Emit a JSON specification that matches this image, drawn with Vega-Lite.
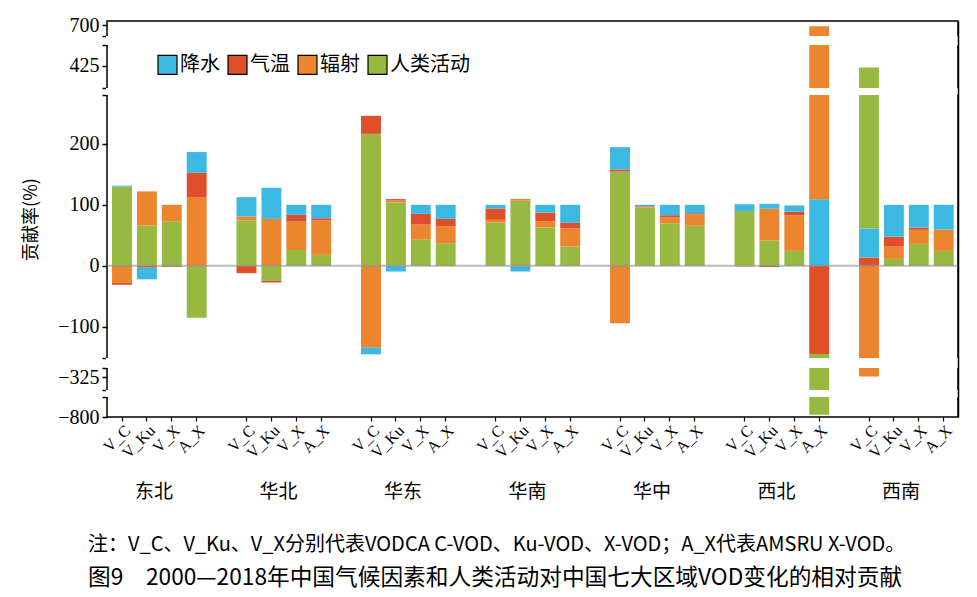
{
 "$schema": "https://vega.github.io/schema/vega-lite/v6.json",
 "width": 851, "height": 396,
 "autosize": {"type": "none"},
 "padding": {"left": 107, "top": 21, "right": 19, "bottom": 180},
 "background": "white",
 "config": {"view": {"stroke": "black", "strokeWidth": 1.5}, "font": "Liberation Serif, DejaVu Serif, serif"},
 "title": {"text": "注：V_C、V_Ku、V_X分别代表VODCA C-VOD、Ku-VOD、X-VOD；A_X代表AMSRU X-VOD。", "subtitle": "图9　2000—2018年中国气候因素和人类活动对中国七大区域VOD变化的相对贡献", "orient": "bottom", "anchor": "start", "frame": "group", "dx": -19, "offset": 34, "font": "Noto Sans CJK SC", "fontSize": 20, "fontWeight": "normal", "color": "black", "subtitleFont": "Noto Sans CJK SC", "subtitleFontSize": 22.7, "subtitleColor": "black", "subtitlePadding": 12},
 "layer": [
  {
   "data": {"values": [
    {"b":"东北 V_C","f":"人类活动","v":130,"k":1},{"b":"东北 V_C","f":"辐射","v":-28,"k":2},{"b":"东北 V_C","f":"气温","v":-3,"k":3},{"b":"东北 V_C","f":"降水","v":1.5,"k":4},
    {"b":"东北 V_Ku","f":"人类活动","v":66,"k":1},{"b":"东北 V_Ku","f":"辐射","v":56,"k":2},{"b":"东北 V_Ku","f":"气温","v":-3,"k":3},{"b":"东北 V_Ku","f":"降水","v":-19,"k":4},
    {"b":"东北 V_X","f":"人类活动","v":72.6,"k":1},{"b":"东北 V_X","f":"辐射","v":27.4,"k":2},{"b":"东北 V_X","f":"气温","v":-1.5,"k":3},
    {"b":"东北 A_X","f":"人类活动","v":-85,"k":1},{"b":"东北 A_X","f":"辐射","v":112,"k":2},{"b":"东北 A_X","f":"气温","v":40.5,"k":3},{"b":"东北 A_X","f":"降水","v":34,"k":4},
    {"b":"华北 V_C","f":"人类活动","v":74,"k":1},{"b":"华北 V_C","f":"辐射","v":7,"k":2},{"b":"华北 V_C","f":"气温","v":-12,"k":3},{"b":"华北 V_C","f":"降水","v":31.5,"k":4},
    {"b":"华北 V_Ku","f":"人类活动","v":-24.6,"k":1},{"b":"华北 V_Ku","f":"辐射","v":77,"k":2},{"b":"华北 V_Ku","f":"气温","v":-2.7,"k":3},{"b":"华北 V_Ku","f":"降水","v":51,"k":4},
    {"b":"华北 V_X","f":"人类活动","v":26,"k":1},{"b":"华北 V_X","f":"辐射","v":46.6,"k":2},{"b":"华北 V_X","f":"气温","v":11,"k":3},{"b":"华北 V_X","f":"降水","v":16.4,"k":4},
    {"b":"华北 A_X","f":"人类活动","v":18,"k":1},{"b":"华北 A_X","f":"辐射","v":56.3,"k":2},{"b":"华北 A_X","f":"气温","v":3.7,"k":3},{"b":"华北 A_X","f":"降水","v":22,"k":4},
    {"b":"华东 V_C","f":"人类活动","v":216.4,"k":1},{"b":"华东 V_C","f":"辐射","v":-134,"k":2},{"b":"华东 V_C","f":"气温","v":29.5,"k":3},{"b":"华东 V_C","f":"降水","v":-11,"k":4},
    {"b":"华东 V_Ku","f":"人类活动","v":104.4,"k":1},{"b":"华东 V_Ku","f":"辐射","v":2.7,"k":2},{"b":"华东 V_Ku","f":"气温","v":2.3,"k":3},{"b":"华东 V_Ku","f":"降水","v":-9.3,"k":4},
    {"b":"华东 V_X","f":"人类活动","v":43.7,"k":1},{"b":"华东 V_X","f":"辐射","v":24,"k":2},{"b":"华东 V_X","f":"气温","v":17.5,"k":3},{"b":"华东 V_X","f":"降水","v":14.8,"k":4},
    {"b":"华东 A_X","f":"人类活动","v":37.2,"k":1},{"b":"华东 A_X","f":"辐射","v":27.3,"k":2},{"b":"华东 A_X","f":"气温","v":12.5,"k":3},{"b":"华东 A_X","f":"降水","v":23,"k":4},
    {"b":"华南 V_C","f":"人类活动","v":71,"k":1},{"b":"华南 V_C","f":"辐射","v":4.4,"k":2},{"b":"华南 V_C","f":"气温","v":18.6,"k":3},{"b":"华南 V_C","f":"降水","v":6,"k":4},
    {"b":"华南 V_Ku","f":"人类活动","v":107,"k":1},{"b":"华南 V_Ku","f":"辐射","v":2.8,"k":2},{"b":"华南 V_Ku","f":"气温","v":-1.1,"k":3},{"b":"华南 V_Ku","f":"降水","v":-8.2,"k":4},
    {"b":"华南 V_X","f":"人类活动","v":62.8,"k":1},{"b":"华南 V_X","f":"辐射","v":10.4,"k":2},{"b":"华南 V_X","f":"气温","v":14.2,"k":3},{"b":"华南 V_X","f":"降水","v":12.6,"k":4},
    {"b":"华南 A_X","f":"人类活动","v":31.7,"k":1},{"b":"华南 A_X","f":"辐射","v":30,"k":2},{"b":"华南 A_X","f":"气温","v":8.8,"k":3},{"b":"华南 A_X","f":"降水","v":29.5,"k":4},
    {"b":"华中 V_C","f":"人类活动","v":154.6,"k":1},{"b":"华中 V_C","f":"辐射","v":-94,"k":2},{"b":"华中 V_C","f":"气温","v":3.4,"k":3},{"b":"华中 V_C","f":"降水","v":36.5,"k":4},
    {"b":"华中 V_Ku","f":"人类活动","v":95.6,"k":1},{"b":"华中 V_Ku","f":"辐射","v":1.1,"k":2},{"b":"华中 V_Ku","f":"气温","v":1.1,"k":3},{"b":"华中 V_Ku","f":"降水","v":2.2,"k":4},
    {"b":"华中 V_X","f":"人类活动","v":70,"k":1},{"b":"华中 V_X","f":"辐射","v":9.2,"k":2},{"b":"华中 V_X","f":"气温","v":3.8,"k":3},{"b":"华中 V_X","f":"降水","v":17,"k":4},
    {"b":"华中 A_X","f":"人类活动","v":65.6,"k":1},{"b":"华中 A_X","f":"辐射","v":19.1,"k":2},{"b":"华中 A_X","f":"气温","v":1.6,"k":3},{"b":"华中 A_X","f":"降水","v":13.7,"k":4},
    {"b":"西北 V_C","f":"人类活动","v":90,"k":1},{"b":"西北 V_C","f":"辐射","v":-1,"k":2},{"b":"西北 V_C","f":"降水","v":11,"k":4},
    {"b":"西北 V_Ku","f":"人类活动","v":41.5,"k":1},{"b":"西北 V_Ku","f":"辐射","v":52,"k":2},{"b":"西北 V_Ku","f":"气温","v":-2,"k":3},{"b":"西北 V_Ku","f":"降水","v":8.2,"k":4},
    {"b":"西北 V_X","f":"人类活动","v":24.6,"k":1},{"b":"西北 V_X","f":"辐射","v":58,"k":2},{"b":"西北 V_X","f":"气温","v":6,"k":3},{"b":"西北 V_X","f":"降水","v":10.4,"k":4},
    {"b":"西北 A_X","f":"降水","v":109.3,"k":1},{"b":"西北 A_X","f":"气温","v":-144.3,"k":2},{"b":"西北 A_X","f":"辐射","v":589,"k":3},{"b":"西北 A_X","f":"人类活动","v":-652,"k":4},
    {"b":"西南 V_C","f":"气温","v":13.7,"k":1},{"b":"西南 V_C","f":"降水","v":47.5,"k":2},{"b":"西南 V_C","f":"人类活动","v":361,"k":3},{"b":"西南 V_C","f":"辐射","v":-324,"k":4},
    {"b":"西南 V_Ku","f":"人类活动","v":11.5,"k":1},{"b":"西南 V_Ku","f":"辐射","v":20,"k":2},{"b":"西南 V_Ku","f":"气温","v":16.4,"k":3},{"b":"西南 V_Ku","f":"降水","v":52,"k":4},
    {"b":"西南 V_X","f":"人类活动","v":36,"k":1},{"b":"西南 V_X","f":"辐射","v":23,"k":2},{"b":"西南 V_X","f":"气温","v":3.8,"k":3},{"b":"西南 V_X","f":"降水","v":37.2,"k":4},
    {"b":"西南 A_X","f":"人类活动","v":24.6,"k":1},{"b":"西南 A_X","f":"辐射","v":35,"k":2},{"b":"西南 A_X","f":"降水","v":40.5,"k":4}
   ]},
   "mark": {"type": "bar"},
   "encoding": {
    "x": {"field": "b", "type": "nominal",
     "scale": {"domain": ["东北 V_C","东北 V_Ku","东北 V_X","东北 A_X","s1","华北 V_C","华北 V_Ku","华北 V_X","华北 A_X","s2","华东 V_C","华东 V_Ku","华东 V_X","华东 A_X","s3","华南 V_C","华南 V_Ku","华南 V_X","华南 A_X","s4","华中 V_C","华中 V_Ku","华中 V_X","华中 A_X","s5","西北 V_C","西北 V_Ku","西北 V_X","西北 A_X","s6","西南 V_C","西南 V_Ku","西南 V_X","西南 A_X","s7"], "range": [2.55, 874.05], "paddingInner": 0.2, "paddingOuter": 0.1},
     "axis": {"values": ["东北 V_C","东北 V_Ku","东北 V_X","东北 A_X","华北 V_C","华北 V_Ku","华北 V_X","华北 A_X","华东 V_C","华东 V_Ku","华东 V_X","华东 A_X","华南 V_C","华南 V_Ku","华南 V_X","华南 A_X","华中 V_C","华中 V_Ku","华中 V_X","华中 A_X","西北 V_C","西北 V_Ku","西北 V_X","西北 A_X","西南 V_C","西南 V_Ku","西南 V_X","西南 A_X"], "labelExpr": "split(datum.value, ' ')[1]", "labelAngle": -45, "labelFont": "Liberation Serif, DejaVu Serif, serif", "labelFontSize": 16, "labelColor": "black", "tickColor": "black", "tickSize": 4, "tickWidth": 1.2, "domain": false, "title": null, "labelPadding": 1, "grid": false}},
    "y": {"field": "v", "type": "quantitative", "stack": "zero",
     "scale": {"domain": [-800, -767, -346, -310, -151, 280, 389, 459, 682, 707], "range": [396, 376, 369, 347, 337, 74, 67, 24, 15, 0], "zero": false, "nice": false},
     "axis": {"orient": "left", "values": [700, 682, 459, 425, 389, 280, 200, 100, 0, -100, -151, -310, -325, -346, -767, -800], "labelExpr": "indexof([700, 425, 200, 100, 0, -100, -325, -800], datum.value) >= 0 ? datum.label : ''", "labelFont": "Liberation Serif, DejaVu Serif, serif", "labelFontSize": 20, "labelColor": "black", "tickColor": "black", "tickSize": 5, "tickWidth": 1.5, "domain": false, "grid": false, "labelPadding": 3, "title": "贡献率(%)", "titleFont": "Noto Sans CJK SC", "titleFontSize": 18, "titleFontWeight": "normal", "titleColor": "black", "titlePadding": 17}},
    "color": {"field": "f", "type": "nominal",
     "scale": {"domain": ["降水", "气温", "辐射", "人类活动"], "range": ["#3CB9E2", "#DF4F2A", "#EB862F", "#97B941"]},
     "legend": {"orient": "none", "legendX": 50, "legendY": 33, "direction": "horizontal", "title": null, "symbolType": "square", "symbolSize": 361, "symbolStrokeColor": "black", "symbolStrokeWidth": 1.2, "symbolOpacity": 1, "labelFont": "Noto Sans CJK SC", "labelFontSize": 20, "labelColor": "black", "labelOffset": 2, "columnPadding": 5, "padding": 0}},
    "order": {"field": "k", "type": "quantitative", "sort": "ascending"}
   }
  },
  {
   "data": {"values": [{"z": 0}]},
   "mark": {"type": "rule", "color": "#8c8c8c", "strokeWidth": 2, "opacity": 0.6},
   "encoding": {"y": {"field": "z", "type": "quantitative", "axis": null}}
  },
  {
   "data": {"values": [{"lo": -707, "hi": -406}, {"lo": -294, "hi": -167}, {"lo": 296, "hi": 373}, {"lo": 484, "hi": 657}]},
   "mark": {"type": "rect", "fill": "white", "stroke": "white", "strokeWidth": 2},
   "encoding": {
    "y": {"field": "lo", "type": "quantitative",
     "scale": {"domain": [-800, -767, -346, -310, -151, 280, 389, 459, 682, 707], "range": [396, 376, 369, 347, 337, 74, 67, 24, 15, 0], "zero": false, "nice": false},
     "axis": {"orient": "right", "labels": false, "ticks": false, "grid": false, "domain": true, "domainColor": "black", "domainWidth": 1.5, "zindex": 1, "title": null}},
    "y2": {"field": "hi"}
   }
  },
  {
   "data": {"values": [{"g": "东北"}, {"g": "华北"}, {"g": "华东"}, {"g": "华南"}, {"g": "华中"}, {"g": "西北"}, {"g": "西南"}]},
   "mark": {"type": "rule", "opacity": 0},
   "encoding": {
    "x": {"field": "g", "type": "nominal", "sort": null,
     "scale": {"domain": ["东北", "华北", "华东", "华南", "华中", "西北", "西南"], "range": [-15.25, 856.25], "paddingInner": 0, "paddingOuter": 0},
     "axis": {"orient": "bottom", "offset": 65, "domain": false, "ticks": false, "labelAngle": 0, "labelFont": "Noto Sans CJK SC", "labelFontSize": 19, "labelColor": "black", "title": null, "labelPadding": 0, "grid": false}}
   }
  }
 ],
 "resolve": {"scale": {"x": "independent"}, "axis": {"x": "independent", "y": "independent"}}
}
